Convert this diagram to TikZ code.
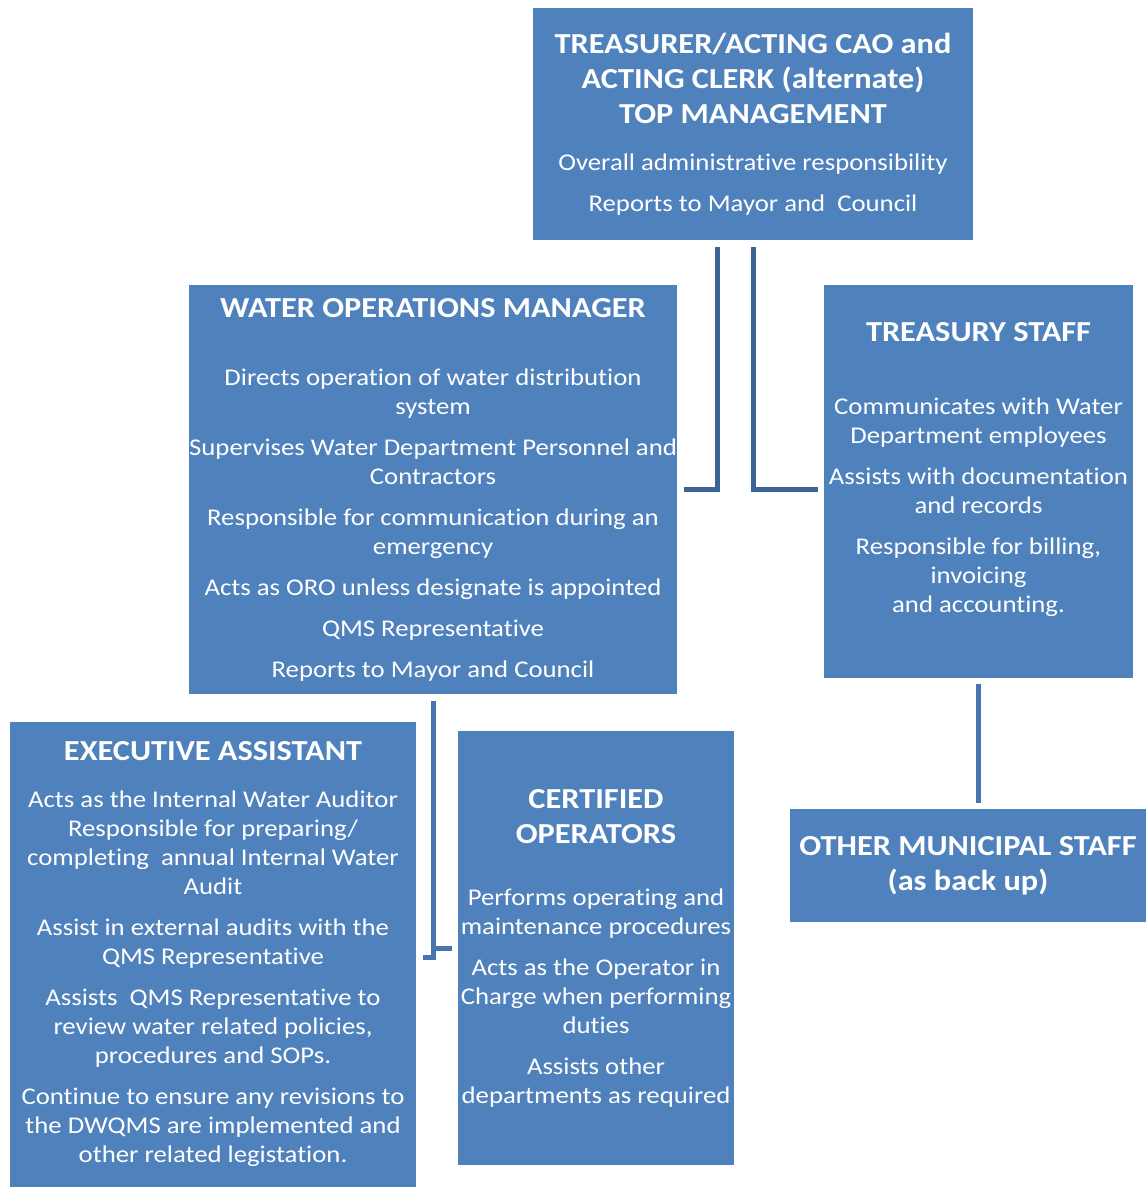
\documentclass[tikz,border=0pt]{standalone}
\usepackage{fontspec}
\setmainfont{Carlito}[FakeStretch=1.115, RawFeature={-liga;-clig;-dlig;-rlig}]
\usepackage{tikz}
\usetikzlibrary{calc}

\definecolor{boxblue}{RGB}{79,129,189}
\definecolor{linkdark}{RGB}{59,99,148}
\definecolor{linkblue}{RGB}{72,117,176}
\newcommand{\roletitle}[1]{{\fontsize{29}{34}\selectfont\bfseries #1}}

\begin{document}
\begin{tikzpicture}[
  x=1pt, y=-1pt,
  font=\fontsize{24}{29}\selectfont,
  role/.style={fill=boxblue, text=white, align=center, inner sep=0pt},
  link/.style={line width=5pt, draw=linkblue},
  toplink/.style={line width=5pt, draw=linkdark}
]
\useasboundingbox (0,0) rectangle (1146,1188);

% boxes
\node[role, minimum width=440, minimum height=232] (top) at (753,124) {%
  \roletitle{TREASURER/ACTING CAO and}\\[6pt]
  \roletitle{ACTING CLERK (alternate)}\\[6pt]
  \roletitle{TOP MANAGEMENT}\\[18pt]
  Overall administrative responsibility\\[12pt]
  Reports to Mayor and~ Council};

\node[role, minimum width=486, minimum height=409] (wom) at (433,489.5) {%
  \roletitle{WATER OPERATIONS MANAGER}\\[39pt]
  Directs operation of water distribution\\
  system\\[12pt]
  Supervises Water Department Personnel and\\
  Contractors\\[12pt]
  Responsible for communication during an\\
  emergency\\[12pt]
  Acts as ORO unless designate is appointed\\[12pt]
  QMS Representative\\[12pt]
  Reports to Mayor and Council};

\node[role, minimum width=309, minimum height=393] (tre) at (978.5,481.5) {%
  \roletitle{TREASURY STAFF}\\[44pt]
  Communicates with Water\\
  Department employees\\[12pt]
  Assists with documentation\\
  and records\\[12pt]
  Responsible for billing,\\
  invoicing\\
  and accounting.\\
  \mbox{}};

\node[role, minimum width=406, minimum height=465] (ea) at (213,954.5) {%
  \roletitle{EXECUTIVE ASSISTANT}\\[18pt]
  Acts as the Internal Water Auditor\\
  Responsible for preparing/\\
  completing~ annual Internal Water\\
  Audit\\[12pt]
  Assist in external audits with the\\
  QMS Representative\\[12pt]
  Assists~ QMS Representative to\\
  review water related policies,\\
  procedures and SOPs.\\[12pt]
  Continue to ensure any revisions to\\
  the DWQMS are implemented and\\
  other related legistation.};

\node[role, minimum width=276, minimum height=434] (co) at (596,948) {%
  \roletitle{CERTIFIED}\\[6pt]
  \roletitle{OPERATORS}\\[33pt]
  Performs operating and\\
  maintenance procedures\\[12pt]
  Acts as the Operator in\\
  Charge when performing\\
  duties\\[12pt]
  Assists other\\
  departments as required};

\node[role, minimum width=356, minimum height=113] (oth) at (968,865.5) {%
  \roletitle{OTHER MUNICIPAL STAFF}\\[6pt]
  \roletitle{(as back up)}};

% connectors
\draw[toplink] ([xshift=-36pt,yshift=-7pt]top.south) |- ([xshift=7pt]wom.east);
\draw[toplink] ([yshift=-7pt]top.south) |- ($(tre.west |- wom.east)+(-6,0)$);
\draw[link] ([yshift=-7pt]wom.south) |- ($(ea.east)+(7,2.5)$);
\draw[link] (wom.south |- co.west) -- ($(co.west)+(-6,0)$);
\draw[link] ([yshift=-6pt]tre.south) -- ($(tre.south |- oth.north)+(0,-6)$);
\end{tikzpicture}
\end{document}
